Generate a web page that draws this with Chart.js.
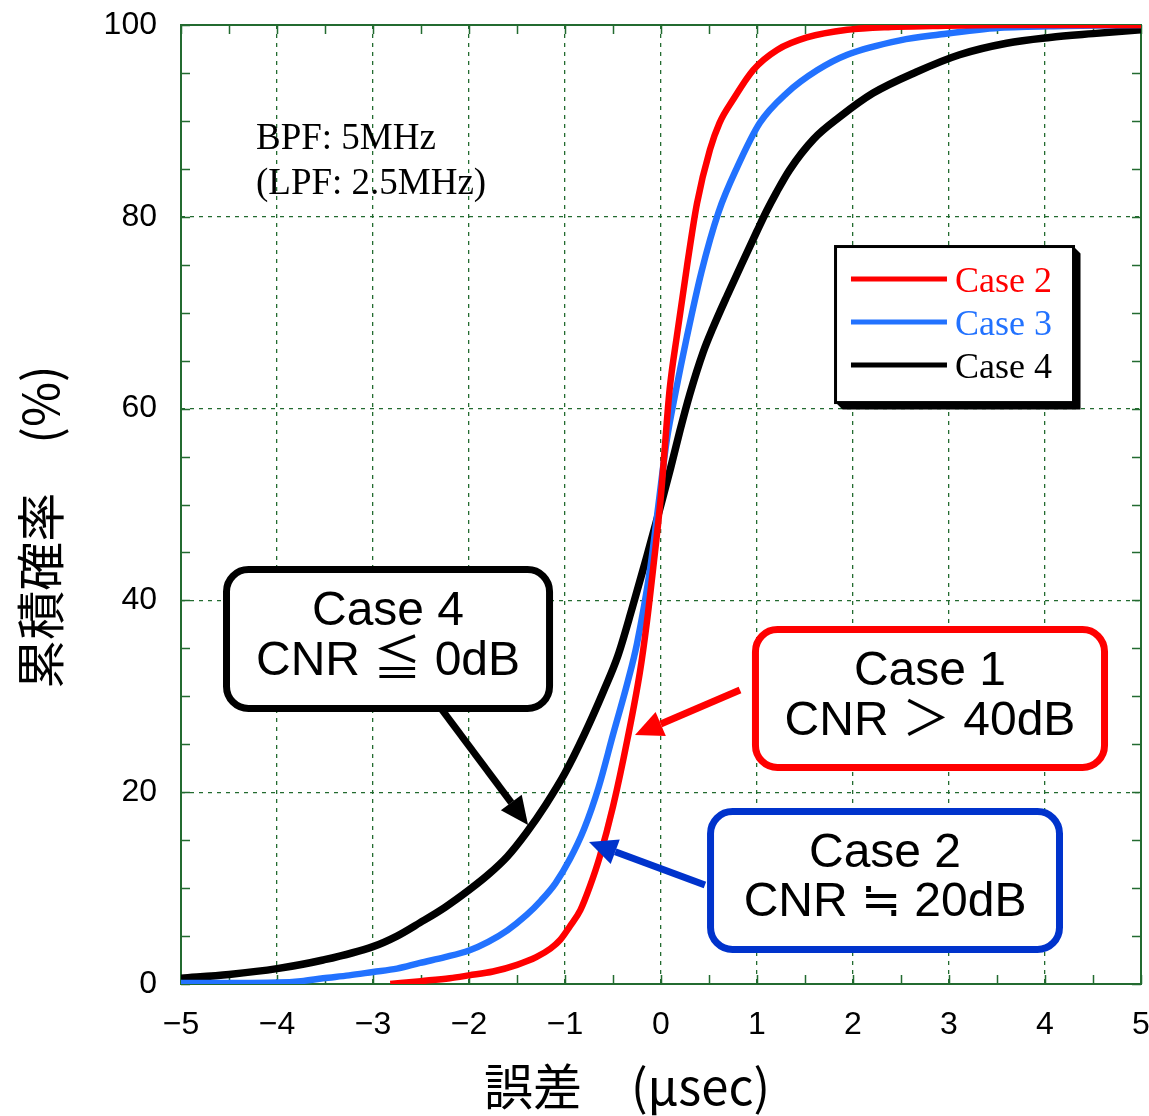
<!DOCTYPE html>
<html><head><meta charset="utf-8">
<script src="https://cdn.jsdelivr.net/npm/chart.js@4.4.0/dist/chart.umd.min.js"></script>
<style>html,body{margin:0;padding:0;background:#fff;}#wrap{width:1149px;height:1116px;}</style>
</head><body><div id="wrap"><canvas id="c" width="1149" height="1116"></canvas></div>
<script>
// ---------- data ----------
const xTicks = [-5,-4,-3,-2,-1,0,1,2,3,4,5];
const yTicks = [0,20,40,60,80,100];
const seriesLabels = ['Case 2','Case 3','Case 4'];
const xTitle = '誤差　(μsec)';
const yTitle = '累積確率　(%)';

const case2X = [-2.82,-2.5,-2.2,-2.0,-1.75,-1.5,-1.3,-1.15,-1.05,-0.95,-0.84,-0.74,-0.64,-0.5,-0.35,-0.22,-0.15,-0.08,0,0.04,0.09,0.17,0.27,0.375,0.51,0.61,0.75,0.96,1.21,1.52,1.94,2.4,2.83,3.5,4.2,5];
const case2Y = [0,0.3,0.6,0.9,1.3,2.0,2.8,3.7,4.6,6.0,7.7,10.2,13.2,18.5,25.5,32.5,37.5,43.5,51.0,56.0,62.0,67.9,74.8,81.4,87.0,89.8,92.2,95.3,97.4,98.7,99.5,99.8,99.9,100,100,100];

const case3X = [-5,-4.5,-4,-3.75,-3.52,-3.25,-3.0,-2.75,-2.51,-2.25,-2.0,-1.8,-1.6,-1.4,-1.25,-1.1,-0.95,-0.8,-0.65,-0.5,-0.35,-0.25,-0.11,-0.03,0.06,0.15,0.27,0.42,0.6,0.8,1.03,1.31,1.63,1.94,2.49,2.9,3.53,4.2,5];
const case3Y = [0.1,0.1,0.15,0.3,0.6,0.9,1.25,1.6,2.2,2.8,3.5,4.4,5.6,7.2,8.7,10.5,13.0,16.2,20.5,26.0,31.4,35.5,43.5,49.7,56.7,61.6,67.5,74.2,80.5,85.3,89.8,92.9,95.3,96.9,98.4,99.0,99.7,99.9,100];

const case4X = [-5,-4.5,-4,-3.52,-3.0,-2.75,-2.51,-2.25,-2.0,-1.8,-1.6,-1.4,-1.2,-1.0,-0.8,-0.6,-0.45,-0.3,-0.15,0,0.1,0.2,0.3,0.44,0.54,0.69,0.86,1.0,1.1,1.2,1.34,1.59,1.86,2.21,2.66,3.11,3.6,4.05,4.5,5];
const case4Y = [0.6,1.0,1.6,2.5,3.9,5.0,6.4,8.0,9.8,11.4,13.3,15.8,18.7,22.0,26.0,30.5,34.2,39.2,44.5,50.0,53.8,57.8,61.5,65.9,68.4,71.8,75.5,78.5,80.6,82.5,84.9,88.1,90.4,92.9,95.1,96.9,98.1,98.7,99.1,99.5];

const noteTitles = ['Case 4','Case 1','Case 2'];
const noteSubs = ['CNR ≦ 0dB','CNR ＞ 40dB','CNR ≒ 20dB'];
const infoLines = ['BPF: 5MHz','(LPF: 2.5MHz)'];

// ---------- styles / placement (data units) ----------
const GRID = '#236b30';
const colors = ['#ff0000','#2272ff','#000000'];
const widths = [6.5,6.5,7.5];
const notes = [
  {box:[-4.526,43.22,-1.161,28.73], ly:[38.79,33.58], arrow:[-2.302,28.88,-1.385,16.58], color:'#000000'},
  {box:[0.984,36.97,4.620,22.58], ly:[32.53,27.32], arrow:[0.823,30.66,-0.271,25.96], color:'#ff0000'},
  {box:[0.516,17.99,4.151,3.60], ly:[13.56,8.45], arrow:[0.458,10.32,-0.75,14.81], color:'#0033cc'}
];
const legendPos = {l:1.818, r:4.297, t:76.90, b:60.63, lx0:1.979, lx1:2.979, tx:3.0625, ys:[73.51,69.03,64.55]};
const infoPos = {x:-4.219, ys:[88.1,83.4]};

const toPts = (xs, ys) => xs.map((x,i)=>({x, y: ys[i]}));
const seriesData = [toPts(case2X,case2Y), toPts(case3X,case3Y), toPts(case4X,case4Y)];

const framePlugin = {
  id:'frame',
  beforeDatasetsDraw(chart){
    const {ctx, chartArea:a, scales:{x,y}} = chart;
    ctx.save();
    ctx.strokeStyle = GRID; ctx.lineWidth = 1.5; ctx.setLineDash([]);
    ctx.beginPath();
    for (let v = x.min; v <= x.max + 1e-9; v += 0.5) {
      const p = Math.round(x.getPixelForValue(v)) + 0.5;
      ctx.moveTo(p, a.bottom); ctx.lineTo(p, a.bottom - 9);
      ctx.moveTo(p, a.top); ctx.lineTo(p, a.top + 9);
    }
    for (let v = y.min; v <= y.max + 1e-9; v += 5) {
      const p = Math.round(y.getPixelForValue(v)) + 0.5;
      ctx.moveTo(a.left, p); ctx.lineTo(a.left + 9, p);
      ctx.moveTo(a.right, p); ctx.lineTo(a.right - 9, p);
    }
    ctx.stroke();
    ctx.lineWidth = 2;
    ctx.strokeRect(a.left, a.top, a.right - a.left, a.bottom - a.top);
    ctx.restore();
  }
};

function arrow(ctx, x0, y0, x1, y1, color, w){
  const ang = Math.atan2(y1 - y0, x1 - x0);
  const hl = 28, hw = 13;
  const bx = x1 - hl * Math.cos(ang), by = y1 - hl * Math.sin(ang);
  ctx.strokeStyle = color; ctx.fillStyle = color; ctx.lineWidth = w; ctx.lineCap = 'butt';
  ctx.beginPath(); ctx.moveTo(x0, y0); ctx.lineTo(bx, by); ctx.stroke();
  ctx.beginPath();
  ctx.moveTo(x1, y1);
  ctx.lineTo(bx + hw * Math.sin(ang), by - hw * Math.cos(ang));
  ctx.lineTo(bx - hw * Math.sin(ang), by + hw * Math.cos(ang));
  ctx.closePath(); ctx.fill();
}

const overlayPlugin = {
  id:'overlay',
  afterDatasetsDraw(chart){
    const {ctx, scales:{x,y}} = chart;
    const X = v => x.getPixelForValue(v), Y = v => y.getPixelForValue(v);
    ctx.save();
    // info text
    ctx.fillStyle = '#000'; ctx.font = "37px 'Liberation Serif', 'Times New Roman', serif";
    ctx.textAlign = 'left'; ctx.textBaseline = 'middle';
    infoLines.forEach((t,i)=>ctx.fillText(t, X(infoPos.x), Y(infoPos.ys[i])));
    // legend
    const L = X(legendPos.l), R = X(legendPos.r), T = Y(legendPos.t), B = Y(legendPos.b);
    const sh = 7;
    ctx.fillStyle = '#000';
    ctx.beginPath();
    ctx.moveTo(R, T); ctx.lineTo(R + sh, T + sh); ctx.lineTo(R + sh, B + sh);
    ctx.lineTo(L + sh, B + sh); ctx.lineTo(L, B); ctx.lineTo(R, B); ctx.closePath(); ctx.fill();
    ctx.fillStyle = '#fff'; ctx.fillRect(L, T, R - L, B - T);
    ctx.strokeStyle = '#000'; ctx.lineWidth = 3; ctx.strokeRect(L, T, R - L, B - T);
    chart.data.datasets.forEach((ds,i)=>{
      const yy = Y(legendPos.ys[i]);
      ctx.strokeStyle = ds.borderColor; ctx.lineWidth = 5;
      ctx.beginPath(); ctx.moveTo(X(legendPos.lx0), yy); ctx.lineTo(X(legendPos.lx1), yy); ctx.stroke();
      ctx.fillStyle = ds.borderColor;
      ctx.font = "36px 'Liberation Serif', 'Times New Roman', serif";
      ctx.textAlign = 'left'; ctx.textBaseline = 'middle';
      ctx.fillText(ds.label, X(legendPos.tx), yy + 4);
    });
    // callouts
    notes.forEach((n,i)=>{
      arrow(ctx, X(n.arrow[0]), Y(n.arrow[1]), X(n.arrow[2]), Y(n.arrow[3]), n.color, 7);
      const bl = X(n.box[0]), bt = Y(n.box[1]), br = X(n.box[2]), bb = Y(n.box[3]);
      ctx.fillStyle = '#fff'; ctx.strokeStyle = n.color; ctx.lineWidth = 7;
      ctx.beginPath(); ctx.roundRect(bl, bt, br - bl, bb - bt, 22); ctx.fill(); ctx.stroke();
      ctx.fillStyle = '#000'; ctx.textAlign = 'center'; ctx.textBaseline = 'middle';
      ctx.font = "48px 'Liberation Sans', Arial, 'Noto Sans CJK JP', sans-serif";
      const cx = (bl + br) / 2;
      ctx.fillText(noteTitles[i], cx, Y(n.ly[0]));
      ctx.fillText(noteSubs[i], cx, Y(n.ly[1]));
    });
    ctx.restore();
  },
  afterDraw(chart){
    const {ctx} = chart;
    ctx.save();
    ctx.fillStyle = '#000';
    ctx.font = "49px 'Noto Sans CJK JP', sans-serif";
    ctx.textAlign = 'center'; ctx.textBaseline = 'middle';
    ctx.fillText(xTitle, 627, 1086);
    ctx.translate(40, 527); ctx.rotate(-Math.PI/2);
    ctx.fillText(yTitle, 0, 0);
    ctx.restore();
  }
};

const tickFont = {family:"'Liberation Sans Narrow', 'Liberation Sans', Arial, sans-serif", size:32};

new Chart(document.getElementById('c'), {
  type:'scatter',
  data:{ datasets: seriesLabels.map((lab,i)=>({
    label: lab, data: seriesData[i], showLine:true, borderColor: colors[i], backgroundColor: colors[i],
    borderWidth: widths[i], pointRadius:0, cubicInterpolationMode:'monotone', borderJoinStyle:'round', borderCapStyle:'butt'
  }))},
  options:{
    responsive:false, animation:false, devicePixelRatio:1,
    layout:{padding:{top:25, right:8, left:0, bottom:0}},
    plugins:{legend:{display:false}, tooltip:{enabled:false}},
    scales:{
      x:{type:'linear', min:-5, max:5,
        afterBuildTicks: s => { s.ticks = xTicks.map(v=>({value:v})); },
        afterFit: s => { s.height = 132; s.paddingLeft = 0; s.paddingRight = 0; },
        ticks:{autoSkip:false, maxRotation:0, padding:22, color:'#000', font:tickFont,
          callback: v => v < 0 ? '\u2212' + Math.abs(v) : String(v)},
        grid:{color:GRID, lineWidth:1.3, drawTicks:false},
        border:{display:false, dash:[4,5]}
      },
      y:{type:'linear', min:0, max:100,
        afterBuildTicks: s => { s.ticks = yTicks.map(v=>({value:v})); },
        afterFit: s => { s.width = 181; s.paddingTop = 0; s.paddingBottom = 0; },
        ticks:{autoSkip:false, padding:24, color:'#000', font:tickFont},
        grid:{color:GRID, lineWidth:1.3, drawTicks:false},
        border:{display:false, dash:[4,5]}
      }
    }
  },
  plugins:[framePlugin, overlayPlugin]
});
</script></body></html>
